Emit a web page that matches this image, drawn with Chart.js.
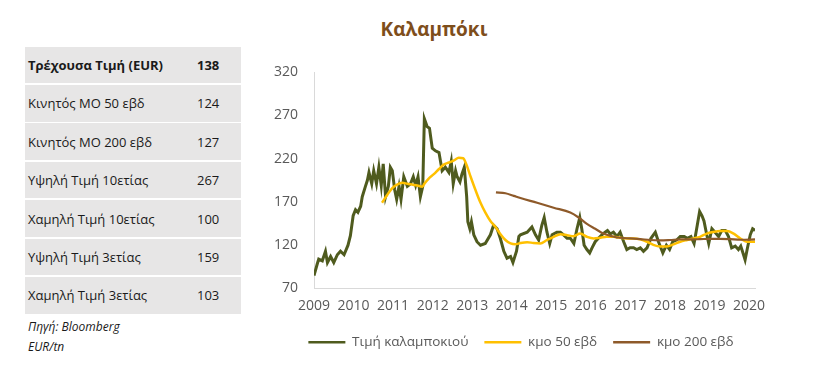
<!DOCTYPE html>
<html>
<head>
<meta charset="utf-8">
<script src="https://cdn.jsdelivr.net/npm/chart.js@4"></script>
<style>
  html, body { margin: 0; padding: 0; background: #fff; }
  body { width: 814px; height: 375px; position: relative; overflow: hidden; font-family: "Open Sans", sans-serif; }
  #title { position: absolute; left: 334px; width: 200px; top: 17px; text-align: center; font-weight: bold; font-size: 19px; line-height: 24px; color: #7E4E1B; }
  #tbl { position: absolute; left: 25px; top: 46.7px; width: 216px; }
  .row { height: 36.6px; margin-bottom: 1.8px; background: #E7E6E6; position: relative; font-size: 13px; color: #1a1a1a; }
  .row span { position: absolute; top: 50%; transform: translateY(-50%); white-space: nowrap; }
  .row .lab { left: 3px; }
  .row .val { left: 172px; }
  .row.b { font-weight: bold; }
  .note { position: absolute; left: 28px; font-style: italic; font-size: 12px; color: #1a1a1a; white-space: nowrap; }
  #cw { position: absolute; left: 250px; top: 0; width: 542px; height: 375px; }
</style>
</head>
<body>
<div id="title">Καλαμπόκι</div>
<div id="tbl"></div>
<div class="note" style="top:318px">Πηγή: Bloomberg</div>
<div class="note" style="top:338px">EUR/tn</div>
<div id="cw"><canvas id="c" width="542" height="375"></canvas></div>
<script>
// ---- table ----
const tableLabels = ["Τρέχουσα Τιμή (EUR)", "Κινητός ΜΟ 50 εβδ", "Κινητός ΜΟ 200 εβδ", "Υψηλή Τιμή 10ετίας", "Χαμηλή Τιμή 10ετίας", "Υψηλή Τιμή 3ετίας", "Χαμηλή Τιμή 3ετίας"];
const tableValues = [138, 124, 127, 267, 100, 159, 103];

// ---- series ----
const seriesNames = ["Τιμή καλαμποκιού", "κμο 50 εβδ", "κμο 200 εβδ"];

const priceT = [2009.00,2009.08,2009.12,2009.21,2009.29,2009.34,2009.42,2009.50,2009.59,2009.67,2009.76,2009.86,2009.92,2009.99,2010.05,2010.11,2010.18,2010.22,2010.30,2010.35,2010.39,2010.46,2010.51,2010.58,2010.64,2010.70,2010.75,2010.81,2010.88,2010.93,2010.98,2011.04,2011.09,2011.15,2011.20,2011.27,2011.36,2011.44,2011.51,2011.57,2011.63,2011.69,2011.75,2011.79,2011.86,2011.92,2011.99,2012.07,2012.16,2012.24,2012.32,2012.41,2012.47,2012.52,2012.58,2012.62,2012.69,2012.74,2012.80,2012.86,2012.89,2012.94,2012.98,2013.04,2013.12,2013.21,2013.33,2013.46,2013.54,2013.63,2013.71,2013.80,2013.88,2013.97,2014.03,2014.12,2014.18,2014.22,2014.39,2014.51,2014.60,2014.68,2014.76,2014.82,2014.89,2014.96,2015.02,2015.14,2015.23,2015.31,2015.40,2015.48,2015.57,2015.65,2015.72,2015.77,2015.83,2015.90,2015.97,2016.03,2016.11,2016.19,2016.28,2016.36,2016.42,2016.49,2016.57,2016.66,2016.74,2016.83,2016.91,2016.99,2017.08,2017.16,2017.25,2017.33,2017.42,2017.52,2017.63,2017.71,2017.82,2017.91,2017.99,2018.07,2018.17,2018.26,2018.36,2018.44,2018.53,2018.61,2018.69,2018.75,2018.81,2018.86,2018.93,2018.98,2019.06,2019.14,2019.23,2019.31,2019.40,2019.48,2019.56,2019.65,2019.73,2019.79,2019.86,2019.90,2019.96,2020.03,2020.09,2020.15];
const price = [85,98,104,102,113,100,107,100,109,113,109,120,131,154,161,158,165,176,188,195,204,191,206,191,210,189,214,176,188,210,206,184,173,188,173,199,188,191,199,189,199,176,188,266,257,255,232,229,227,206,210,204,217,191,206,199,193,202,210,176,147,139,147,132,124,120,122,132,143,139,128,113,105,107,100,113,130,132,135,141,132,126,143,152,135,122,132,135,135,132,128,128,122,139,152,139,120,115,111,117,124,128,132,135,137,133,135,130,135,124,115,117,117,115,117,113,117,128,135,124,111,120,115,124,126,130,130,128,130,122,143,159,154,148,132,122,139,135,130,137,137,130,117,119,115,119,109,103,117,132,139,137];

const ma50T = [2010.72,2010.85,2010.98,2011.10,2011.23,2011.36,2011.48,2011.61,2011.74,2011.79,2011.90,2012.03,2012.16,2012.28,2012.41,2012.54,2012.66,2012.77,2012.85,2012.96,2013.08,2013.21,2013.33,2013.46,2013.59,2013.71,2013.84,2013.97,2014.09,2014.22,2014.39,2014.55,2014.72,2014.89,2015.06,2015.23,2015.40,2015.56,2015.73,2015.90,2016.07,2016.24,2016.40,2016.57,2016.74,2016.91,2017.08,2017.25,2017.42,2017.58,2017.75,2017.92,2018.09,2018.26,2018.43,2018.60,2018.76,2018.93,2019.10,2019.27,2019.44,2019.61,2019.78,2019.94,2020.15];
const ma50 = [169,178,186,190,192,191,190,189,187.5,191,197,202,208,213,215.5,218,221,220.4,213.6,199,184,169,158,148,141,133,126,122,121,122.5,123.5,122.5,122,126,129.7,132.7,131.6,130.4,133.4,129.7,127.8,128.6,129.7,129.7,128.6,127.8,127.8,126.7,124,120.4,118.5,118.5,121,124,126,127.8,129.7,133.4,135.3,136.4,136.4,133.4,127.8,124,124];

const ma200T = [2013.60,2013.84,2014.05,2014.22,2014.64,2015.06,2015.48,2015.69,2015.90,2016.11,2016.32,2016.53,2016.74,2016.99,2017.25,2017.50,2017.75,2018.00,2018.26,2018.51,2018.76,2019.02,2019.27,2019.52,2019.78,2020.15];
const ma200 = [181,180,177,174.5,169,163.3,157.7,152,144.6,139,133.4,130.4,128.6,127.8,127,126,125.6,126,126.7,126.7,127,127.4,127.4,127,126.3,126.7];

const yearTicks = [2009,2010,2011,2012,2013,2014,2015,2016,2017,2018,2019,2020];
const yTicks = [70,120,170,220,270,320];

// build table
const tbl = document.getElementById('tbl');
tableLabels.forEach((l, i) => {
  const r = document.createElement('div');
  r.className = 'row' + (i === 0 ? ' b' : '');
  r.innerHTML = '<span class="lab"></span><span class="val"></span>';
  r.children[0].textContent = l;
  r.children[1].textContent = tableValues[i];
  tbl.appendChild(r);
});

const zip = (xs, ys) => xs.map((x, i) => ({ x: x, y: ys[i] }));
const FONT = '"Open Sans", sans-serif';

new Chart(document.getElementById('c'), {
  type: 'line',
  data: {
    datasets: [
      { label: seriesNames[0], data: zip(priceT, price), borderColor: '#4F5B1E', backgroundColor: '#4F5B1E', borderWidth: 3, pointRadius: 0, tension: 0, order: 3 },
      { label: seriesNames[1], data: zip(ma50T, ma50), borderColor: '#FFC000', backgroundColor: '#FFC000', borderWidth: 2.5, pointRadius: 0, cubicInterpolationMode: 'monotone', order: 2 },
      { label: seriesNames[2], data: zip(ma200T, ma200), borderColor: '#8E5A2A', backgroundColor: '#8E5A2A', borderWidth: 2.2, pointRadius: 0, cubicInterpolationMode: 'monotone', order: 1 }
    ]
  },
  options: {
    responsive: false,
    animation: false,
    events: [],
    layout: { padding: { top: 72, right: 0, left: 0, bottom: 16 } },
    plugins: {
      tooltip: { enabled: false },
      title: { display: false },
      legend: {
        position: 'bottom',
        labels: {
          boxWidth: 37, boxHeight: 2.5, padding: 16,
          color: '#595959', font: { family: FONT, size: 13.5 },
          sort: (a, b) => a.datasetIndex - b.datasetIndex,
          generateLabels: (c) => Chart.defaults.plugins.legend.labels.generateLabels(c).map(l => Object.assign(l, { lineWidth: 0 }))
        }
      }
    },
    scales: {
      x: {
        type: 'linear', min: 2009, max: 2020.15,
        grid: { display: false, drawTicks: false },
        border: { display: true, color: '#D9D9D9', width: 1 },
        afterBuildTicks: (s) => { s.ticks = yearTicks.map(v => ({ value: v })); },
        afterFit: (s) => { s.height = 31; },
        ticks: { autoSkip: false, maxRotation: 0, padding: 9, color: '#595959', font: { family: FONT, size: 14 }, callback: (v) => String(v) }
      },
      y: {
        min: 70, max: 320,
        grid: { display: false, drawTicks: false },
        border: { display: true, color: '#D9D9D9', width: 1 },
        afterBuildTicks: (s) => { s.ticks = yTicks.map(v => ({ value: v })); },
        afterFit: (s) => { s.width = 64; },
        ticks: { padding: 16, color: '#595959', font: { family: FONT, size: 14 }, callback: (v) => String(v) }
      },
      yRight: {
        position: 'right', min: 0, max: 1, display: true,
        grid: { display: false, drawTicks: false },
        border: { display: false },
        ticks: { display: false },
        afterFit: (s) => { s.width = 37; }
      }
    }
  }
});
</script>
</body>
</html>
